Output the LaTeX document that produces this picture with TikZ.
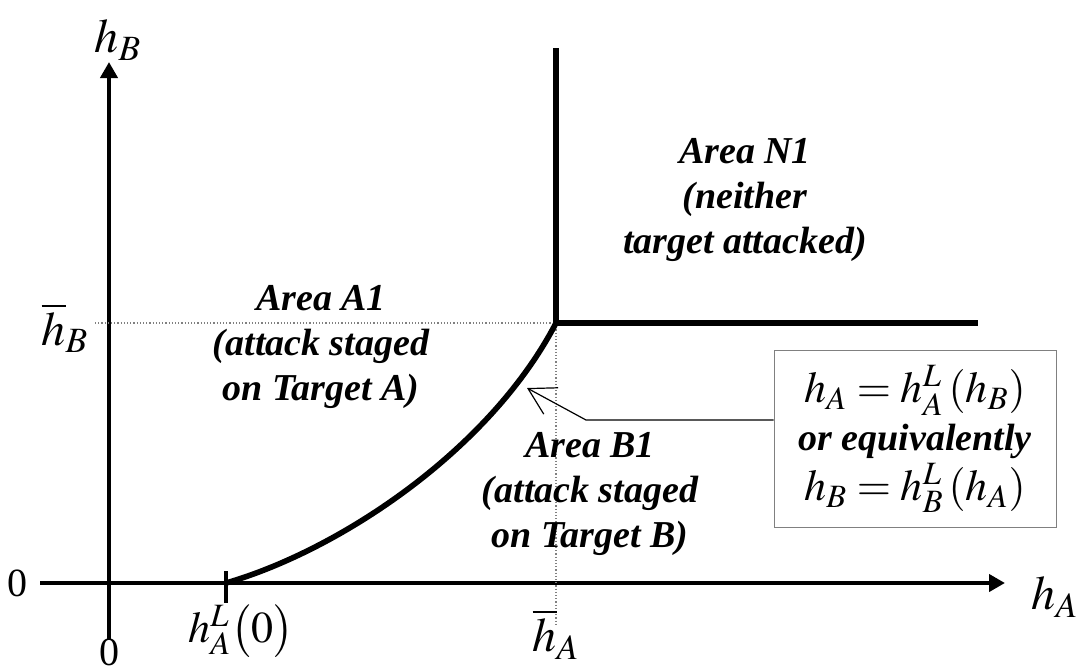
\documentclass[tikz,border=0pt]{standalone}
\usepackage{mathptmx}
\usepackage{fontspec}
\setmainfont{Liberation Serif}
\usetikzlibrary{arrows.meta}

\tikzset{
  axis/.style={line width=2pt, -{Triangle[length=8pt,width=8.5pt]}},
  border/.style={line width=2.8pt, line join=miter},
  guide/.style={gray, densely dotted, line width=0.6pt},
  area/.style={align=center, font=\fontsize{19}{22.3}\selectfont\bfseries\itshape},
  lab/.style={font=\fontsize{24}{28}\selectfont, inner sep=0pt},
  num/.style={font=\fontsize{20}{24}\selectfont, inner sep=0pt},
  leader/.style={line width=0.6pt, -{Straight Barb[length=13pt,width=15pt,line width=0.6pt]}},
}

\begin{document}
\begin{tikzpicture}[x=0.5pt,y=-0.5pt]
\useasboundingbox (0,0) rectangle (1081,671);

% assi
\draw[axis] (40,583) -- (1005,583);
\draw[axis] (109,640) -- (109,62);
\draw[line width=2pt] (226,571) -- (226,603);

% linee guida
\coordinate (corner) at (556,323);
\draw[guide] (95,323) -- (corner);
\draw[guide] (corner) -- (556,625);

% frontiere
\draw[border] (556,48) -- (corner) -- (978,323);
\draw[border] (226,583) .. controls (340,550) and (490,450) .. (corner);

% etichette assi
\node[lab] (hB) at (118,40) {$h_B$};
\node[lab] (hA) at (1055,597) {$h_A$};
\node[num] (zeroB) at (17,583) {0};
\node[num] (zeroA) at (109,652) {0};
\node[lab, font=\fontsize{22}{26}\selectfont] (hALzero) at (241,631) {$h_A^L\bigl(0\bigr)$};
\node[lab] (hAbar) at (556,634) {$\overline{h}_A$};
\node[lab] (hBbar) at (65,328) {$\overline{h}_B$};

% aree
\node[area] (areaN) at (745,200) {Area N1\\(neither\\target attacked)};
\node[area] (areaA) at (321,347) {Area A1\\(attack staged\\on Target A)};
\node[area] (areaB) at (590,494) {Area B1\\(attack staged\\on Target B)};

% riquadro
\node[draw=gray, line width=0.5pt, minimum width=141pt, minimum height=88.5pt,
  align=center, font=\fontsize{22}{25}\selectfont] (eqbox) at (915,439)
  {$h_A = h_A^L\left(h_B\right)$\\[-1pt]
   {\fontsize{19}{22}\selectfont\bfseries\itshape or equivalently}\\[0pt]
   $h_B = h_B^L\left(h_A\right)$};

\coordinate (bend) at (586,420);
\coordinate (tip) at (527,388);
\draw[leader] (eqbox.west |- bend) -- (bend) -- (tip);

\end{tikzpicture}
\end{document}
